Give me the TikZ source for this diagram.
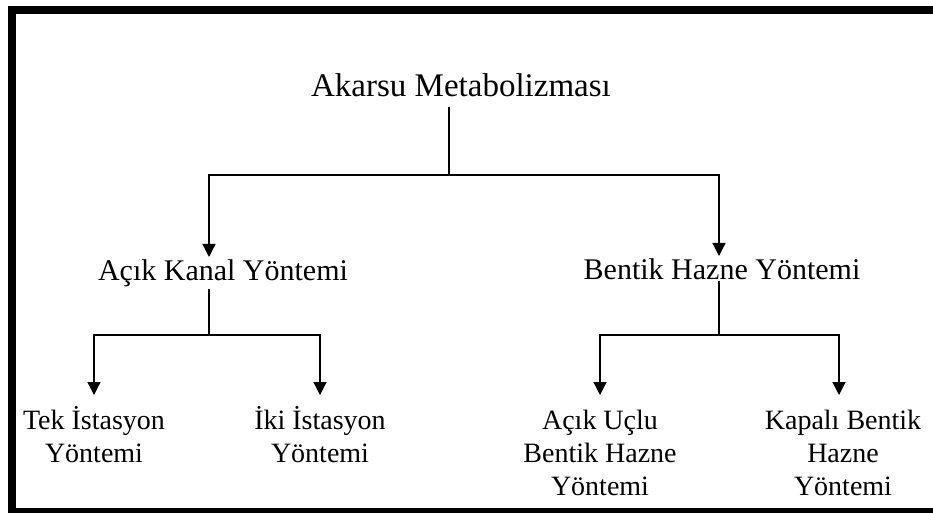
\documentclass[tikz,border=0pt]{standalone}
\usepackage{fontspec}
\setmainfont{Liberation Serif}
\usetikzlibrary{arrows.meta}
\usetikzlibrary{positioning}
\tikzset{lbl/.style = {inner sep = 2, font = \fontsize{30}{31}\selectfont}}
\tikzset{leaf/.style = {inner sep = 0, align = center, font = \fontsize{28}{33}\selectfont}}
\tikzset{wire/.style = {line width = 1.3}}
\tikzset{conn/.style = {wire, -{Triangle[width = 13, length = 13]}}}

\begin{document}
\begin{tikzpicture}[x = 1pt, y = -1pt]
      \useasboundingbox (0, 0) rectangle (933, 513);
      \draw [line width = 8] (12, 10) rectangle (941, 512);
      \node [lbl, inner sep = 9, font = \fontsize{33}{34}\selectfont, anchor = base] (root) at (461, 97) {Akarsu Metabolizması};
      \node [lbl, anchor = base] (acik) at (223, 280) {Açık Kanal Yöntemi};
      \node [lbl, anchor = base] (bentik) at (722, 279) {Bentik Hazne Yöntemi};
      % base = last line
      \node [leaf, anchor = base] (tek) at (94, 462) {Tek İstasyon\\Yöntemi};
      \node [leaf, anchor = base] (iki) at (320, 462) {İki İstasyon\\Yöntemi};
      \node [leaf, anchor = base] (uclu) at (600, 495) {Açık Uçlu\\Bentik Hazne\\Yöntemi};
      \node [leaf, anchor = base] (kapali) at (843, 495) {Kapalı Bentik\\Hazne\\Yöntemi};
      \coordinate (hub) at (449, 175);
      \coordinate (hubA) at (209, 335);
      \coordinate (hubB) at (719, 335);
      \coordinate (tips) at (0, 395);
      \draw [wire] (root.south -| hub) -- (hub);
      \draw [conn] (hub) -| (hubA |- acik.north);
      \draw [conn] (hub) -| (hubB |- bentik.north);
      \draw [wire] (acik.south -| hubA) -- (hubA);
      \draw [conn] (hubA) -| (tek |- tips);
      \draw [conn] (hubA) -| (iki |- tips);
      \draw [wire] (bentik.south -| hubB) -- (hubB);
      \draw [conn] (hubB) -| (uclu |- tips);
      \draw [conn] (hubB) -| ([xshift = -4]kapali.center |- tips);
    \end{tikzpicture}
\end{document}
